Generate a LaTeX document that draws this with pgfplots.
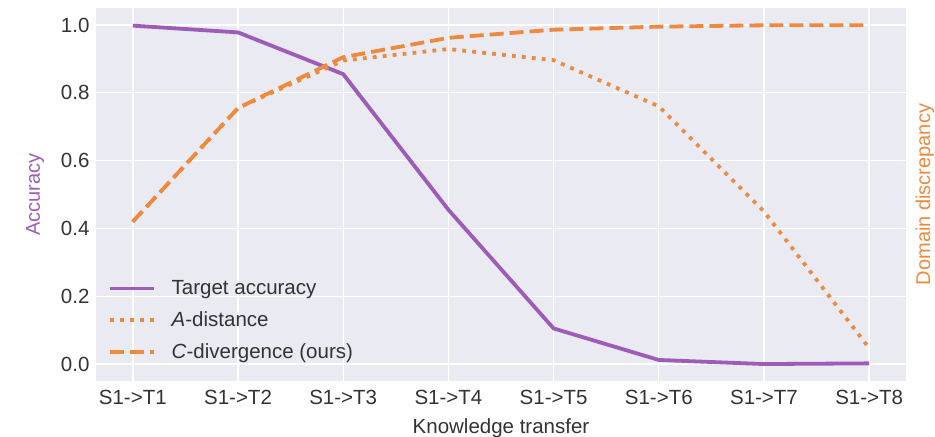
\documentclass[border=0pt]{standalone}
\usepackage{pgfplots}
\pgfplotsset{compat=1.18}
\usepackage{fontspec}
\setmainfont{Liberation Sans}

\definecolor{bgdark}{HTML}{EAEAF2}
\definecolor{txt}{HTML}{333333}
\definecolor{accpurple}{HTML}{9D5CB8}
\definecolor{discorange}{HTML}{EE8A3E}

% Accuracy on the target domain and two discrepancy measures per transfer task
\pgfplotstableread{
x acc adist cdiv
0 0.998 0.420 0.420
1 0.978 0.755 0.755
2 0.855 0.895 0.905
3 0.455 0.929 0.962
4 0.105 0.896 0.986
5 0.012 0.760 0.995
6 0.000 0.450 0.999
7 0.002 0.047 0.999
}\datatable

\begin{document}
\begin{tikzpicture}
\useasboundingbox (0,0) rectangle (935bp,437bp);
\begin{axis}[
  name=ax,
  at={(96bp,56bp)}, anchor=south west,
  scale only axis, width=810bp, height=373bp,
  xmin=-0.35, xmax=7.35, ymin=-0.05, ymax=1.05,
  axis background/.style={fill=bgdark},
  axis line style={draw=none},
  major tick length=0pt,
  grid=major, major grid style={white, line width=1.4bp},
  xtick={0,...,7},
  xticklabels={S1->T1,S1->T2,S1->T3,S1->T4,S1->T5,S1->T6,S1->T7,S1->T8},
  ytick={0,0.2,0.4,0.6,0.8,1.0},
  /pgf/number format/fixed,
  /pgf/number format/fixed zerofill,
  /pgf/number format/precision=1,
  /pgf/number format/assume math mode=true,
  tick label style={font=\fontsize{20.5bp}{24bp}\selectfont, text=txt},
  xticklabel style={yshift=-6bp},
  yticklabel style={xshift=-3bp},
  xlabel={Knowledge transfer},
  xlabel style={font=\fontsize{20.5bp}{24bp}\selectfont, text=txt, yshift=-7bp},
  ylabel={Accuracy},
  ylabel style={font=\fontsize{20bp}{24bp}\selectfont, text=accpurple, yshift=10bp},
  legend style={at={(0.012,0.045)}, anchor=south west, draw=none, fill=none,
    font=\fontsize{20.5bp}{24bp}\selectfont, text=txt,
    row sep=11.5bp, inner sep=2bp,
    /tikz/every odd column/.append style={column sep=14bp}},
  legend cell align=left,
  legend image code/.code={\draw[#1] (0bp,0bp) -- (44bp,0bp);},
]
\addplot[accpurple, line width=3.8bp, line join=round] table[x=x, y=acc] {\datatable};
\addlegendentry{Target accuracy}
\addplot[discorange, line width=3.8bp, dash pattern=on 3.8bp off 6.2bp] table[x=x, y=adist] {\datatable};
\addlegendentry{\textit{A}-distance}
\addplot[discorange, line width=3.8bp, dash pattern=on 14bp off 6bp] table[x=x, y=cdiv] {\datatable};
\addlegendentry{\textit{C}-divergence (ours)}
\end{axis}
\node[rotate=90, anchor=center, font=\fontsize{20bp}{24bp}\selectfont, text=discorange]
  at ([xshift=19bp]ax.east) {Domain discrepancy};
\end{tikzpicture}
\end{document}
